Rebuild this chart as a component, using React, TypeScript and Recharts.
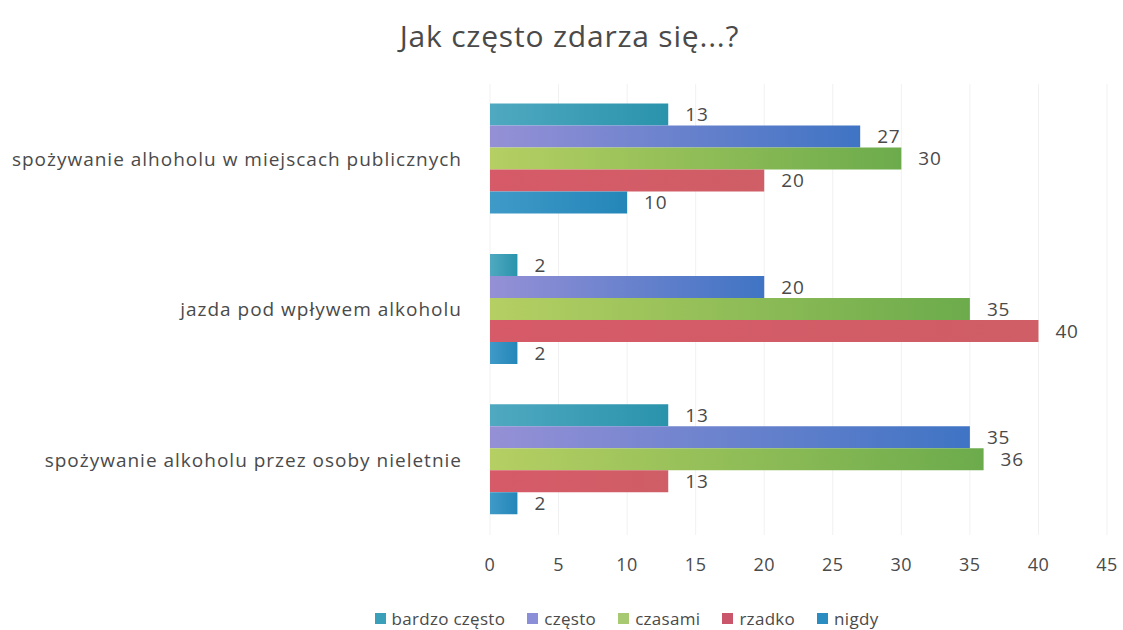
import { BarChart, Bar, XAxis, YAxis, CartesianGrid, Legend, LabelList } from "recharts";

const categories = [
  "spożywanie alhoholu w miejscach publicznych",
  "jazda pod wpływem alkoholu",
  "spożywanie alkoholu przez osoby nieletnie",
];
const bardzoCzesto = [13, 2, 13];
const czesto = [27, 20, 35];
const czasami = [30, 35, 36];
const rzadko = [20, 40, 13];
const nigdy = [10, 2, 2];
const xTicks = [0, 5, 10, 15, 20, 25, 30, 35, 40, 45];

const series = [
  { key: "bardzoCzesto", name: "bardzo często", grad: "gTeal", from: "#4fa9c0", to: "#2a93ac", legend: "#3a9fb8" },
  { key: "czesto", name: "często", grad: "gViolet", from: "#9590d6", to: "#3f74c4", legend: "#8a8fd8" },
  { key: "czasami", name: "czasami", grad: "gGreen", from: "#b5cf63", to: "#6cab4c", legend: "#a6c972" },
  { key: "rzadko", name: "rzadko", grad: "gRed", from: "#d65a68", to: "#cf5e66", legend: "#c9566a" },
  { key: "nigdy", name: "nigdy", grad: "gBlue", from: "#3f9ac8", to: "#2486b8", legend: "#2a8cc0" },
];

const data = categories.map((name, i) => ({
  name,
  bardzoCzesto: bardzoCzesto[i],
  czesto: czesto[i],
  czasami: czasami[i],
  rzadko: rzadko[i],
  nigdy: nigdy[i],
}));

const font = "'Open Sans', 'Noto Sans', sans-serif";
const textColor = "#4a4a4a";

function LegendContent() {
  return (
    <div style={{ display: "flex", justifyContent: "center", gap: 22, fontFamily: font, fontSize: 17, color: textColor, letterSpacing: 0.3 }}>
      {series.map((s) => (
        <span key={s.key} style={{ display: "flex", alignItems: "center" }}>
          <span style={{ width: 11, height: 11, background: s.legend, marginRight: 6, display: "inline-block" }} />
          {s.name}
        </span>
      ))}
    </div>
  );
}

export default function App() {
  return (
    <div style={{ position: "absolute", top: 0, left: 0, width: 1123, height: 630, background: "#fff" }}>
      <div
        style={{
          position: "absolute",
          top: 15,
          left: 8,
          width: 1123,
          textAlign: "center",
          fontFamily: font,
          fontSize: 30,
          letterSpacing: 0.8,
          color: textColor,
        }}
      >
        Jak często zdarza się...?
      </div>
      <BarChart
        width={1123}
        height={630}
        data={data}
        layout="vertical"
        margin={{ top: 84, right: 16, left: 0, bottom: 32 }}
        barGap={0}
        barCategoryGap="13%"
      >
        <defs>
          {series.map((s) => (
            <linearGradient key={s.grad} id={s.grad} x1="0" y1="0" x2="1" y2="0">
              <stop offset="0%" stopColor={s.from} />
              <stop offset="100%" stopColor={s.to} />
            </linearGradient>
          ))}
        </defs>
        <CartesianGrid horizontal={false} stroke="#f1f1f1" />
        <XAxis
          type="number"
          domain={[0, 45]}
          ticks={xTicks}
          axisLine={false}
          tickLine={false}
          tickMargin={17}
          height={40}
          tick={{ fill: textColor, fontSize: 18, fontFamily: font, letterSpacing: 0.5 }}
        />
        <YAxis
          type="category"
          dataKey="name"
          width={490}
          axisLine={false}
          tickLine={false}
          tickMargin={22}
          tick={{ fill: textColor, fontSize: 19, fontFamily: font, letterSpacing: 1 }}
        />
        <Legend
          verticalAlign="bottom"
          content={<LegendContent />}
          wrapperStyle={{ left: 130, width: 993, top: 607 }}
        />
        {series.map((s) => (
          <Bar key={s.key} dataKey={s.key} name={s.name} fill={`url(#${s.grad})`} isAnimationActive={false}>
            <LabelList
              dataKey={s.key}
              position="right"
              offset={17}
              fill={textColor}
              fontSize={19}
              fontFamily={font}
              style={{ letterSpacing: 0.8 }}
            />
          </Bar>
        ))}
      </BarChart>
    </div>
  );
}
